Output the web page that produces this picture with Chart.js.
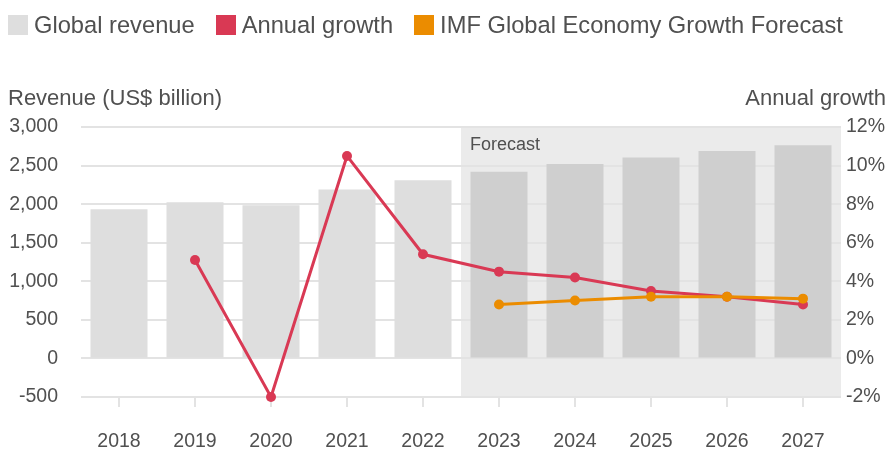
<!DOCTYPE html>
<html>
<head>
<meta charset="utf-8">
<script src="https://cdn.jsdelivr.net/npm/chart.js@4/dist/chart.umd.min.js"></script>
<style>
  html, body { margin: 0; padding: 0; background: #fff; }
  body { width: 888px; height: 455px; position: relative; overflow: hidden;
         font-family: "Liberation Sans", Arial, sans-serif; color: #505050; }
  #wrap { position: absolute; left: 0; top: 0; width: 888px; height: 455px; }
  #legend { position: absolute; left: 8px; top: 15px; display: flex; font-size: 23.7px; line-height: 20px; }
  #legend .item { display: flex; align-items: center; margin-right: 21px; }
  #legend .box { width: 20px; height: 20px; margin-right: 6px; }
  .axis-title { position: absolute; top: 87px; font-size: 22px; line-height: 22px; }
</style>
</head>
<body>
<div id="wrap"><canvas id="chart" width="888" height="455"></canvas></div>
<div id="legend"></div>
<div class="axis-title" style="left:8px">Revenue (US$ billion)</div>
<div class="axis-title" style="right:2px">Annual growth</div>
<script>
const years = ['2018', '2019', '2020', '2021', '2022', '2023', '2024', '2025', '2026', '2027'];
const revenue = [1935, 2025, 1985, 2190, 2310, 2420, 2520, 2605, 2690, 2765];
const growth = [null, 5.1, -2.0, 10.5, 5.4, 4.5, 4.2, 3.5, 3.2, 2.8];
const imfGrowth = [null, null, null, null, null, 2.8, 3.0, 3.2, 3.2, 3.1];
const forecastFrom = '2023';

const TEXT = '#505050';
const GRID = '#e3e3e3';
const tickFont = { family: '"Liberation Sans", Arial, sans-serif', size: 19.5 };
const firstForecast = years.indexOf(forecastFrom);

// grey band behind the forecast years, drawn before grid and bars
const forecastBand = {
  id: 'forecastBand',
  beforeDraw(chart) {
    const { ctx, chartArea: a, scales: { x } } = chart;
    const left = (x.getPixelForValue(firstForecast - 1) + x.getPixelForValue(firstForecast)) / 2;
    ctx.save();
    ctx.fillStyle = '#ebebeb';
    ctx.fillRect(left, a.top, a.right - left, a.bottom - a.top);
    ctx.fillStyle = TEXT;
    ctx.font = '18px "Liberation Sans", Arial, sans-serif';
    ctx.textBaseline = 'middle';
    ctx.fillText('Forecast', left + 9, a.top + 18);
    ctx.restore();
  }
};

const chart = new Chart(document.getElementById('chart'), {
  type: 'bar',
  data: {
    labels: years,
    datasets: [
      { type: 'line', label: 'IMF Global Economy Growth Forecast', data: imfGrowth, yAxisID: 'y1',
        borderColor: '#eb8c00', backgroundColor: '#eb8c00', borderWidth: 3, clip: false,
        pointRadius: 5, pointBackgroundColor: '#eb8c00', pointBorderWidth: 0, order: 1 },
      { type: 'line', label: 'Annual growth', data: growth, yAxisID: 'y1',
        borderColor: '#d93954', backgroundColor: '#d93954', borderWidth: 3, clip: false,
        pointRadius: 5, pointBackgroundColor: '#d93954', pointBorderWidth: 0, order: 2 },
      { label: 'Global revenue', data: revenue, yAxisID: 'y',
        backgroundColor: c => c.dataIndex >= firstForecast ? '#cfcfcf' : '#dedede',
        categoryPercentage: 1, barPercentage: 0.75, order: 3 }
    ]
  },
  options: {
    responsive: false, maintainAspectRatio: false, animation: false, devicePixelRatio: 1,
    layout: { padding: { top: 127, left: 0, right: 0, bottom: 0 } },
    plugins: { legend: { display: false }, tooltip: { enabled: false } },
    scales: {
      x: {
        offset: true,
        grid: { offset: false, drawOnChartArea: false, drawTicks: true, tickLength: 10, color: GRID, lineWidth: 2 },
        border: { display: false },
        ticks: { color: TEXT, font: tickFont, padding: 23, maxRotation: 0 },
        afterFit: s => { s.height = 58; }
      },
      y: {
        position: 'left', min: -500, max: 3000,
        ticks: { stepSize: 500, color: TEXT, font: tickFont, padding: 23,
                 callback: v => v.toLocaleString('en-US') },
        grid: { color: GRID, lineWidth: 2, drawTicks: false },
        border: { display: false },
        afterFit: s => { s.width = 81; }
      },
      y1: {
        position: 'right', min: -2, max: 12,
        ticks: { stepSize: 2, color: TEXT, font: tickFont, padding: 5, callback: v => v + '%' },
        grid: { drawOnChartArea: false, drawTicks: false },
        border: { display: false },
        afterFit: s => { s.width = 47; }
      }
    }
  },
  plugins: [forecastBand]
});

// legend in the same order as above the chart
const legend = document.getElementById('legend');
['Global revenue', 'Annual growth', 'IMF Global Economy Growth Forecast'].forEach(name => {
  const ds = chart.data.datasets.find(d => d.label === name);
  const colour = typeof ds.backgroundColor === 'function' ? '#dedede' : ds.backgroundColor;
  const item = document.createElement('div');
  item.className = 'item';
  item.innerHTML = '<span class="box" style="background:' + colour + '"></span><span>' + name + '</span>';
  legend.appendChild(item);
});
</script>
</body>
</html>
